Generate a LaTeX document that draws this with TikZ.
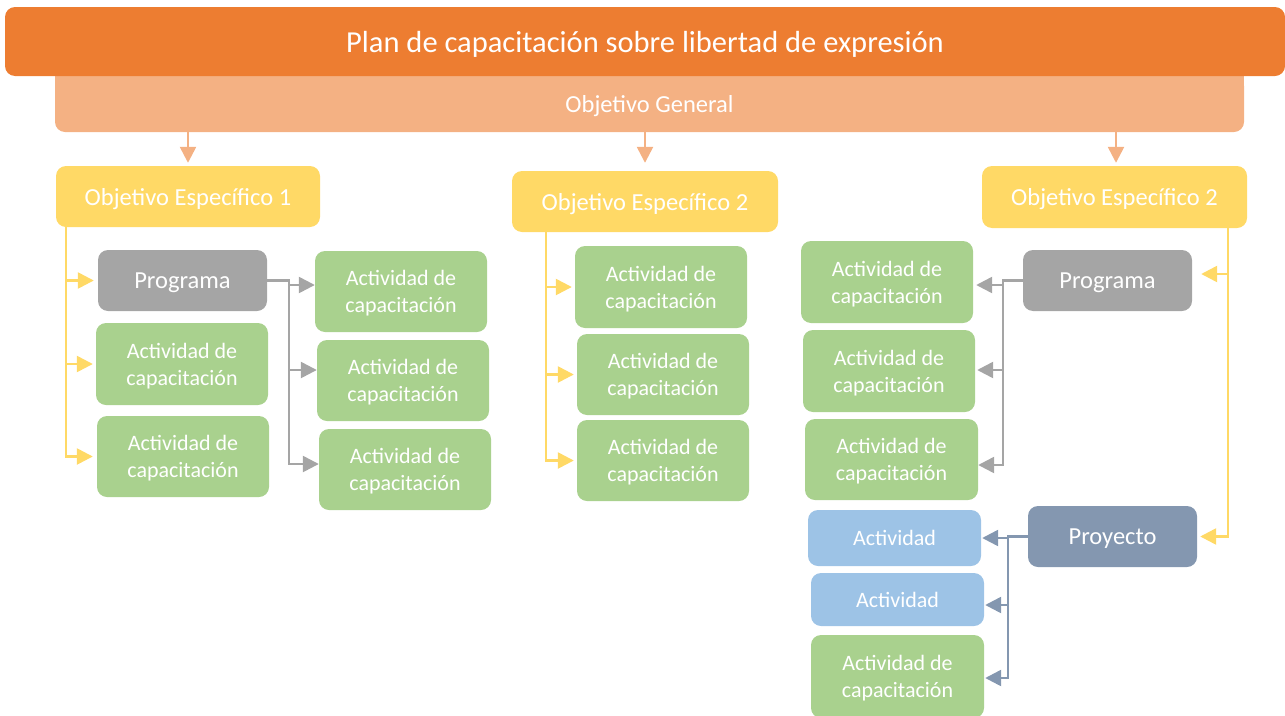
\documentclass[tikz,border=0pt]{standalone}
\usepackage{fontspec}
\setmainfont{Carlito}
\usetikzlibrary{arrows.meta,calc}
\definecolor{cTitle}{HTML}{ED7D31}
\definecolor{cGen}{HTML}{F4B183}
\definecolor{cYel}{HTML}{FFD966}
\definecolor{cGray}{HTML}{A5A5A5}
\definecolor{cGreen}{HTML}{A9D18E}
\definecolor{cBlue}{HTML}{9DC3E6}
\definecolor{cProj}{HTML}{8497B0}
\begin{document}
\begin{tikzpicture}[x=1pt,y=-1pt,
  box/.style={rounded corners=10pt, inner sep=0pt, align=center, text=white,
    text depth=0pt, font=\fontsize{24.5}{29}\selectfont},
  oebox/.style={box, fill=cYel, minimum width=265pt, minimum height=61pt},
  progbox/.style={box, fill=cGray, minimum width=169pt, minimum height=61pt},
  actbox/.style={box, fill=cGreen, minimum width=172pt, minimum height=81pt,
    font=\fontsize{22}{27}\selectfont},
  bluebox/.style={box, fill=cBlue, minimum width=173pt,
    font=\fontsize{22}{27}\selectfont},
  tip/.style={-{Triangle[length=16pt,width=16pt]}},
  conn/.style={line width=2.5pt},
  genarrow/.style={conn, tip, draw=cGen},
  yel/.style={conn, draw=cYel},
  gry/.style={conn, draw=cGray},
  prj/.style={conn, draw=cProj}
]
\useasboundingbox (0,0) rectangle (1285,715);

% header bars
\node[box, fill=cGen, minimum width=1189pt, minimum height=56pt] (general) at (649.5,104) {Objetivo General};
\fill[cGen] (general.north west) rectangle ($(general.north east)+(0,12)$);
\node[box, fill=cTitle, minimum width=1280pt, minimum height=69pt, font=\fontsize{30.5}{36}\selectfont] (title) at (645,41.5) {Plan de capacitación sobre libertad de expresión};

% specific objectives
\node[oebox, minimum width=264pt] (oe1) at (188,196.5) {Objetivo Específico 1};
\node[oebox, minimum width=266pt] (oe2m) at (645,201.5) {Objetivo Específico 2};
\node[oebox, minimum height=62pt] (oe2r) at (1114.5,197) {Objetivo Específico 2};

\draw[genarrow, shorten >=3pt] (general.south -| oe1.north) -- (oe1.north);
\draw[genarrow, shorten >=8pt] (general.south -| oe2m.north) -- (oe2m.north);
\coordinate (kr) at (1116,0);
\draw[genarrow, shorten >=3pt] (general.south -| kr) -- (oe2r.north -| kr);

% left column
\node[progbox] (prog1) at (182.5,280.5) {Programa};
\node[actbox, minimum height=82pt] (a11) at (182,364) {Actividad de\\capacitación};
\node[actbox] (a12) at (183,456.5) {Actividad de\\capacitación};
\node[actbox] (b1) at (401,291.5) {Actividad de\\capacitación};
\node[actbox] (b2) at (403,380.5) {Actividad de\\capacitación};
\node[actbox] (b3) at (405,469.5) {Actividad de\\capacitación};

\coordinate (k1) at (66,0);
\draw[yel, tip, shorten >=4pt] (oe1.south -| k1) |- (a12.west);
\draw[yel, tip, shorten >=4pt] (k1 |- prog1.west) -- (prog1.west);
\draw[yel, tip, shorten >=3pt] (k1 |- a11.west) -- (a11.west);

\coordinate (g1) at (289,285);
\coordinate (g2) at (289,370);
\coordinate (g3) at (289,464);
\draw[gry, tip] (prog1.east) -| (g3) -- (g3 -| b3.west);
\draw[gry, tip] (g1) -- (g1 -| b1.west);
\draw[gry, tip] (g2) -- (g2 -| b2.west);

% middle column
\node[actbox, minimum height=82pt] (c1) at (661,287) {Actividad de\\capacitación};
\node[actbox] (c2) at (663,374.5) {Actividad de\\capacitación};
\node[actbox] (c3) at (663,460.5) {Actividad de\\capacitación};
\coordinate (k3) at (546,0);
\draw[yel, tip, shorten >=3pt] (oe2m.south -| k3) |- (c3.west);
\draw[yel, tip, shorten >=3pt] (k3 |- c1.west) -- (c1.west);
\draw[yel, tip, shorten >=3pt] (k3 |- c2.west) -- (c2.west);

% right column
\node[progbox] (prog2) at (1107.5,280.5) {Programa};
\node[actbox, minimum height=82pt] (d1) at (887,282) {Actividad de\\capacitación};
\node[actbox, minimum height=82pt] (d2) at (889,371) {Actividad de\\capacitación};
\node[actbox, minimum width=173pt] (d3) at (891.5,459.5) {Actividad de\\capacitación};
\node[progbox, fill=cProj] (proj) at (1112.5,536.5) {Proyecto};
\node[bluebox, minimum height=56pt] (e1) at (894.5,538) {Actividad};
\node[bluebox, minimum height=53pt] (e2) at (897.5,599.5) {Actividad};
\node[actbox, minimum width=173pt, minimum height=83pt] (e3) at (897.5,676.5) {Actividad de\\capacitación};

\coordinate (k4) at (1228,0);
\coordinate (y1) at (1228,274);
\draw[yel, tip, shorten >=3pt] (oe2r.south -| k4) |- (proj.east);
\draw[yel, tip, shorten >=9pt] (y1) -- (y1 -| prog2.east);

\coordinate (h1) at (1003,285);
\coordinate (h2) at (1003,370);
\coordinate (h3) at (1003,465);
\draw[gry, tip] (prog2.west) -| (h3) -- (h3 -| d3.east);
\draw[gry, tip, shorten >=3pt] (h1) -- (h1 -| d1.east);
\draw[gry, tip, shorten >=2pt] (h2) -- (h2 -| d2.east);

\coordinate (m1) at (1008,538);
\coordinate (m2) at (1008,605);
\coordinate (m3) at (1008,678);
\draw[prj, tip, shorten >=1pt] (proj.west) -| (m3) -- (m3 -| e3.east);
\draw[prj, tip, shorten >=1pt] (m1) -- (m1 -| e1.east);
\draw[prj, tip, shorten >=1pt] (m2) -- (m2 -| e2.east);
\end{tikzpicture}
\end{document}
